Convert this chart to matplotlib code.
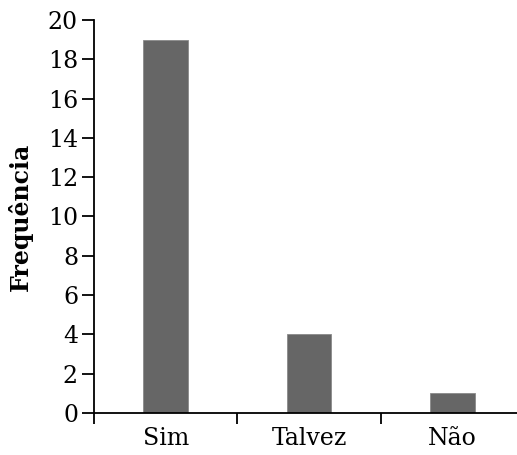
import matplotlib.pyplot as plt

categories = ['Sim', 'Talvez', 'Não']
freq = [19, 4, 1]
y_ticks = list(range(0, 21, 2))

plt.rcParams['font.family'] = ['DejaVu Serif']

fig = plt.figure(figsize=(5.17, 4.55), dpi=100)
ax = fig.add_axes([94 / 517, 1 - 413 / 455, 430 / 517, (413 - 20) / 455])

centers = [i + 0.5 for i in range(len(categories))]
ax.bar(centers, freq, width=0.31, color='#666666', edgecolor='#8a8a8a', linewidth=0.6, zorder=2)

ax.set_xlim(0, len(categories))
ax.set_ylim(0, 20)
ax.set_yticks(y_ticks)

# boundary ticks on the x axis, labels centred between them
ax.set_xticks(range(len(categories) + 1))
ax.set_xticklabels([])
ax.set_xticks(centers, minor=True)
ax.set_xticklabels(categories, minor=True, fontsize=17)
ax.tick_params(axis='x', which='major', direction='out', length=8, width=1.3)
ax.tick_params(axis='x', which='minor', length=0, pad=10)
ax.tick_params(axis='y', direction='out', length=8.5, width=1.3, labelsize=17, pad=3)

for side in ['top', 'right']:
    ax.spines[side].set_visible(False)
for side in ['left', 'bottom']:
    ax.spines[side].set_linewidth(1.3)
ax.spines['bottom'].set_zorder(3)

ax.set_ylabel('Frequência', fontsize=17, fontweight='bold', labelpad=11)

fig.savefig('out.png', dpi=100)
